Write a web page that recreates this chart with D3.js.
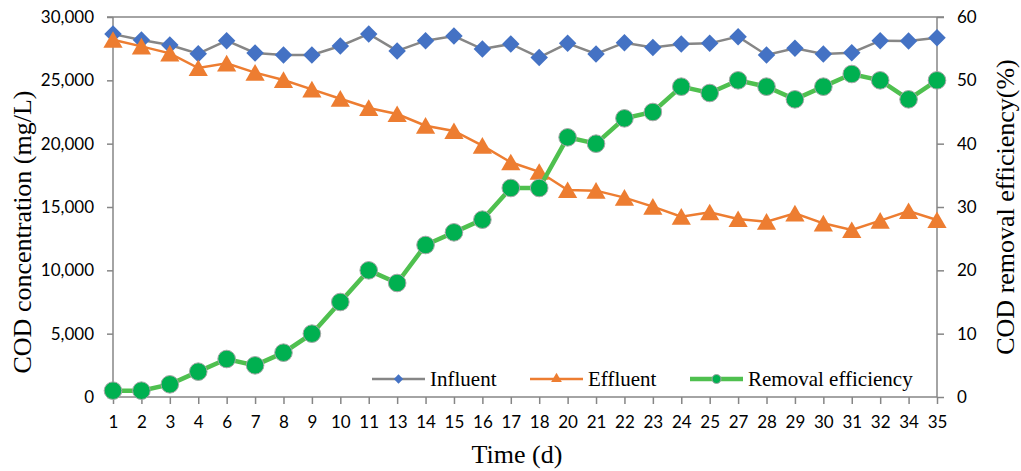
<!DOCTYPE html>
<html>
<head>
<meta charset="utf-8">
<script src="https://cdn.jsdelivr.net/npm/d3@7"></script>
<style>
  html, body { margin: 0; padding: 0; background: #fff; }
  svg { display: block; }
</style>
</head>
<body>
<div id="chart"></div>
<script>
const days = ["1","2","3","4","6","7","8","9","10","11","13","14","15","16","17","18","20","21","22","23","24","25","27","28","29","30","31","32","34","35"];

const influent = [28650, 28180, 27790, 27100, 28130, 27160, 27000, 27000, 27710, 28660,
  27320, 28130, 28500, 27470, 27870, 26810, 27920, 27080, 27970, 27600,
  27870, 27920, 28450, 27000, 27530, 27080, 27180, 28130, 28100, 28360];

const effluent = [28200, 27680, 27130, 25970, 26340, 25610, 25030, 24290, 23550, 22820,
  22340, 21420, 21000, 19840, 18530, 17780, 16340, 16290, 15740, 15030,
  14240, 14580, 14050, 13840, 14500, 13710, 13180, 13920, 14680, 13970];

const removal = [1, 1, 2, 4, 6, 5, 7, 10, 15, 20,
  18, 24, 26, 28, 33, 33, 41, 40, 44, 45,
  49, 48, 50, 49, 47, 49, 51, 50, 47, 50];

const leftTicks = [0, 5000, 10000, 15000, 20000, 25000, 30000];
const rightTicks = [0, 10, 20, 30, 40, 50, 60];

const width = 1021, height = 471;
const margin = {top: 17, right: 84, bottom: 74, left: 113};

const axisGray = "#868686";
const blue = "#4472C4", orange = "#ED7D31", green = "#00B050", greenLine = "#4FC04F";
const sansFont = "Lato, 'Open Sans', sans-serif";
const serifFont = "'Liberation Serif', 'Times New Roman', serif";

const svg = d3.select("#chart").append("svg")
  .attr("width", width)
  .attr("height", height);

const x = d3.scalePoint()
  .domain(days)
  .range([margin.left, width - margin.right]);

const yL = d3.scaleLinear()
  .domain([0, 30000])
  .range([height - margin.bottom, margin.top]);

const yR = d3.scaleLinear()
  .domain([0, 60])
  .range([height - margin.bottom, margin.top]);

const x0 = margin.left, x1 = width - margin.right;
const yb = height - margin.bottom, yt = margin.top;

// top border line
svg.append("line")
  .attr("x1", x0 - 6).attr("x2", x1 + 7)
  .attr("y1", yt).attr("y2", yt)
  .attr("stroke", axisGray).attr("stroke-width", 1.5);

// left axis
svg.append("g")
  .attr("transform", `translate(${x0},0)`)
  .call(d3.axisLeft(yL).tickValues(leftTicks).tickSize(6).tickPadding(13).tickFormat(d3.format(",")))
  .call(g => g.selectAll("path, line").attr("stroke", axisGray).attr("stroke-width", 1.5))
  .call(g => g.select(".domain").attr("d", `M0,${yb}V${yt}`))
  .call(g => g.selectAll("text").attr("font-family", sansFont).attr("font-size", 17).attr("fill", "#000"));

// right axis
svg.append("g")
  .attr("transform", `translate(${x1},0)`)
  .call(d3.axisRight(yR).tickValues(rightTicks).tickSize(7).tickPadding(13))
  .call(g => g.selectAll("path, line").attr("stroke", axisGray).attr("stroke-width", 1.5))
  .call(g => g.select(".domain").attr("d", `M0,${yb}V${yt}`))
  .call(g => g.selectAll("text").attr("font-family", sansFont).attr("font-size", 17).attr("fill", "#000"));

// bottom axis
svg.append("g")
  .attr("transform", `translate(0,${yb})`)
  .call(d3.axisBottom(x).tickSize(7).tickPadding(12).tickSizeOuter(0))
  .call(g => g.selectAll("path, line").attr("stroke", axisGray).attr("stroke-width", 1.5))
  .call(g => g.select(".domain").attr("d", `M${x0},0H${x1}`))
  .call(g => g.selectAll("text").attr("font-family", sansFont).attr("font-size", 17).attr("fill", "#000"));

// axis titles
svg.append("text")
  .attr("x", 517).attr("y", 463)
  .attr("text-anchor", "middle")
  .attr("font-family", serifFont).attr("font-size", 26)
  .text("Time (d)");

svg.append("text")
  .attr("transform", "translate(31,232) rotate(-90)")
  .attr("text-anchor", "middle")
  .attr("font-family", serifFont).attr("font-size", 26)
  .text("COD concentration (mg/L)");

svg.append("text")
  .attr("transform", "translate(1014,207) rotate(-90)")
  .attr("text-anchor", "middle")
  .attr("font-family", serifFont).attr("font-size", 26)
  .text("COD removal efficiency(%)");

const diamond = d3.symbol(d3.symbolDiamond2, 195);
const triangle = d3.symbol(d3.symbolTriangle, 160);

// influent
svg.append("path")
  .datum(influent)
  .attr("fill", "none")
  .attr("stroke", axisGray).attr("stroke-width", 2.5)
  .attr("d", d3.line().x((d, i) => x(days[i])).y(d => yL(d)));

svg.append("g").selectAll("path")
  .data(influent)
  .join("path")
  .attr("transform", (d, i) => `translate(${x(days[i])},${yL(d)})`)
  .attr("d", diamond)
  .attr("fill", blue);

// effluent
svg.append("path")
  .datum(effluent)
  .attr("fill", "none")
  .attr("stroke", orange).attr("stroke-width", 2.5)
  .attr("d", d3.line().x((d, i) => x(days[i])).y(d => yL(d)));

svg.append("g").selectAll("path")
  .data(effluent)
  .join("path")
  .attr("transform", (d, i) => `translate(${x(days[i])},${yL(d) + 2.5})`)
  .attr("d", triangle)
  .attr("fill", orange);

// removal efficiency
svg.append("path")
  .datum(removal)
  .attr("fill", "none")
  .attr("stroke", greenLine).attr("stroke-width", 4.5)
  .attr("d", d3.line().x((d, i) => x(days[i])).y(d => yR(d)));

svg.append("g").selectAll("circle")
  .data(removal)
  .join("circle")
  .attr("cx", (d, i) => x(days[i]))
  .attr("cy", d => yR(d))
  .attr("r", 8.8)
  .attr("fill", green)
  .attr("stroke", "#a6a6a6").attr("stroke-width", 1);

// legend
const legend = [
  {name: "Influent", x: 372, line: axisGray, lw: 2.5, mark: "diamond"},
  {name: "Effluent", x: 530, line: orange, lw: 2.5, mark: "triangle"},
  {name: "Removal efficiency", x: 690, line: greenLine, lw: 4.5, mark: "circle"}
];
const ly = 379;
const lg = svg.append("g").selectAll("g").data(legend).join("g")
  .attr("transform", d => `translate(${d.x},${ly})`);
lg.append("line")
  .attr("x1", 0).attr("x2", 53).attr("y1", 0).attr("y2", 0)
  .attr("stroke", d => d.line).attr("stroke-width", d => d.lw);
lg.each(function(d) {
  const g = d3.select(this);
  if (d.mark === "diamond") {
    g.append("path").attr("transform", "translate(26.5,0)")
      .attr("d", d3.symbol(d3.symbolDiamond2, 55)).attr("fill", blue);
  } else if (d.mark === "triangle") {
    g.append("path").attr("transform", "translate(26.5,0)")
      .attr("d", d3.symbol(d3.symbolTriangle, 50)).attr("fill", orange);
  } else {
    g.append("circle").attr("cx", 26.5).attr("cy", 0).attr("r", 4.5)
      .attr("fill", green).attr("stroke", "#a6a6a6").attr("stroke-width", 1);
  }
});
lg.append("text")
  .attr("x", 58).attr("y", 7)
  .attr("font-family", serifFont).attr("font-size", 21)
  .text(d => d.name);
</script>
</body>
</html>
